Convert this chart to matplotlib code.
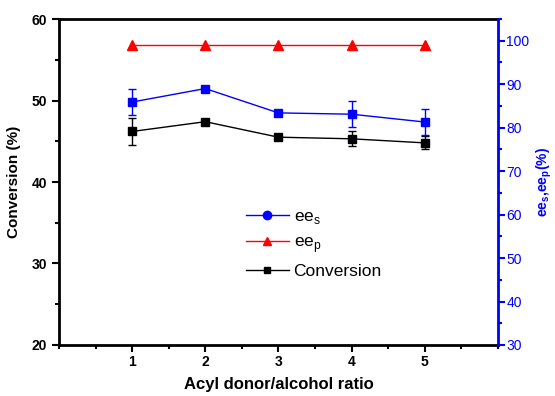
import matplotlib
matplotlib.use("Agg")
import matplotlib.pyplot as plt
from matplotlib.lines import Line2D
from matplotlib.ticker import MultipleLocator

plt.rcParams["font.family"] = ["Liberation Sans", "DejaVu Sans"]

# acyl donor / alcohol ratio
ratio = [1, 2, 3, 4, 5]

conversion = [46.2, 47.4, 45.5, 45.3, 44.8]
conversion_err = [1.7, 0.3, 0.3, 0.9, 0.8]

ee_s = [85.9, 89.0, 83.4, 83.1, 81.3]
ee_s_err = [3.0, 0.5, 0.5, 3.0, 3.0]

ee_p = [99.0, 99.0, 99.0, 99.0, 99.0]

C_BLUE = "#0000ff"
C_RED = "#ff0000"
C_BLACK = "#000000"

fig = plt.figure(figsize=(5.55, 3.96), dpi=100)
ax = fig.add_axes([0.1063, 0.1288, 0.7907, 0.8232])
ax2 = ax.twinx()

ax.errorbar(ratio, conversion, yerr=conversion_err, color=C_BLACK, marker="s",
            markersize=6, linewidth=1, capsize=3, elinewidth=1, zorder=3)
ax2.errorbar(ratio, ee_s, yerr=ee_s_err, color=C_BLUE, marker="s",
             markersize=6, linewidth=1, capsize=3, elinewidth=1, zorder=3)
ax2.plot(ratio, ee_p, color=C_RED, marker="^", markersize=7, linewidth=1, zorder=3)

ax.set_xlim(0, 6)
ax.set_ylim(20, 60)
ax2.set_ylim(30, 105)

ax.xaxis.set_major_locator(MultipleLocator(1))
ax.xaxis.set_minor_locator(MultipleLocator(0.5))
ax.yaxis.set_major_locator(MultipleLocator(10))
ax.yaxis.set_minor_locator(MultipleLocator(5))
ax2.yaxis.set_major_locator(MultipleLocator(10))
ax2.yaxis.set_minor_locator(MultipleLocator(5))

ax.set_xticks([1, 2, 3, 4, 5])
ax.set_xticklabels(["1", "2", "3", "4", "5"])
ax2.set_yticks([30, 40, 50, 60, 70, 80, 90, 100])

ax.tick_params(axis="both", which="major", direction="out", length=5, width=1.5,
               labelsize=10)
ax.tick_params(axis="x", which="major", pad=2)
ax.tick_params(axis="both", which="minor", direction="out", length=3, width=1.5)
ax2.tick_params(axis="y", which="major", direction="out", length=5, width=1.5,
                colors=C_BLUE, labelsize=10, pad=1)
ax2.tick_params(axis="y", which="minor", direction="out", length=3, width=1.5,
                colors=C_BLUE)
for lbl in ax.get_xticklabels() + ax.get_yticklabels():
    lbl.set_fontweight("bold")

for side in ["left", "bottom", "top"]:
    ax.spines[side].set_linewidth(2)
ax.spines["right"].set_visible(False)
for side in ["left", "bottom", "top"]:
    ax2.spines[side].set_visible(False)
ax2.spines["right"].set_linewidth(2)
ax2.spines["right"].set_color(C_BLUE)

ax.set_xlabel("Acyl donor/alcohol ratio", fontsize=12, fontweight="bold", labelpad=6)
ax.set_ylabel("Conversion (%)", fontsize=11, fontweight="bold", labelpad=8)
ax2.set_ylabel(r"ee$_\mathregular{s}$,ee$_\mathregular{p}$(%)", fontsize=10,
               fontweight="bold", color=C_BLUE, labelpad=4)

handles = [
    Line2D([], [], color=C_BLUE, marker="o", markersize=6, linewidth=1),
    Line2D([], [], color=C_RED, marker="^", markersize=6, linewidth=1),
    Line2D([], [], color=C_BLACK, marker="s", markersize=5, linewidth=1),
]
labels = [r"ee$_\mathregular{s}$", r"ee$_\mathregular{p}$", "Conversion"]
ax.legend(handles, labels, loc="upper left", bbox_to_anchor=(0.39, 0.465),
          frameon=False, fontsize=12.5, handlelength=2.5, handletextpad=0.25,
          labelspacing=0.5)

fig.savefig("out.png", dpi=100)
